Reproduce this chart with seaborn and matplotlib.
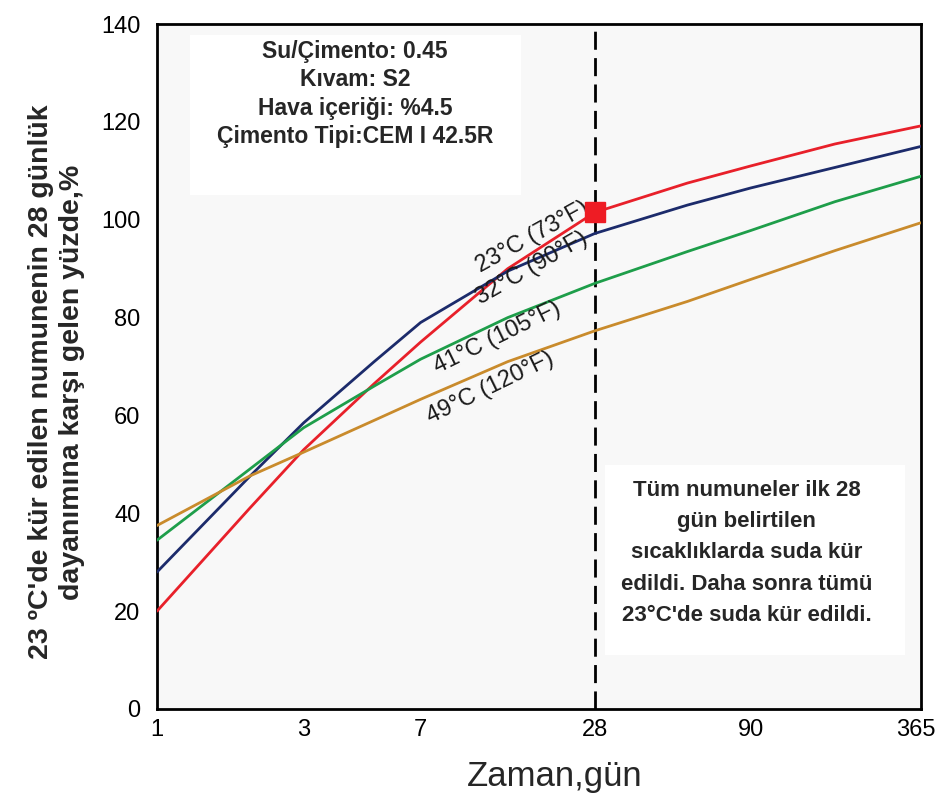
import numpy as np
import pandas as pd
import seaborn as sns
import matplotlib.pyplot as plt
from matplotlib.patches import Rectangle
from matplotlib.ticker import NullLocator
from matplotlib.transforms import ScaledTranslation

days = [1, 2, 3, 5, 7, 14, 28, 56, 90, 180, 365]
c23 = [20, 41, 53, 66.5, 75, 90, 101.5, 107.5, 111, 115.5, 119.2]
c32 = [28, 47.5, 58.5, 71, 79, 89.5, 97.2, 103, 106.5, 110.7, 115]
c41 = [34.5, 49, 57.5, 66, 71.5, 80, 87, 93.5, 97.8, 103.7, 108.9]
c49 = [37.5, 47.6, 52.5, 59, 63.3, 71, 77.3, 83.3, 87.8, 93.7, 99.4]

series_names = ["23°C (73°F)", "32°C (90°F)", "41°C (105°F)", "49°C (120°F)"]
colors = ["#e8202a", "#1c2b6b", "#1e9e4a", "#c98b2c"]
day_ticks = [1, 3, 7, 28, 90, 365]
y_ticks = [0, 20, 40, 60, 80, 100, 120, 140]
ref_day = 28
ref_value = 101.5

info_text = "Su/Çimento: 0.45\nKıvam: S2\nHava içeriği: %4.5\nÇimento Tipi:CEM I 42.5R"
note_text = ("Tüm numuneler ilk 28\ngün belirtilen\nsıcaklıklarda suda kür\n"
             "edildi. Daha sonra tümü\n23°C'de suda kür edildi.")

rows = []
for name, vals in zip(series_names, [c23, c32, c41, c49]):
    for d, v in zip(days, vals):
        rows.append({"Zaman": d, "Yuzde": v, "Sicaklik": name})
df = pd.DataFrame(rows)

# orijinal grafikteki zaman ekseni tam logaritmik degil, tik araliklarina gore esle
scale_logs = [-1.0, 0.0, np.log10(3), np.log10(7), np.log10(28), np.log10(90), np.log10(365), 3.6]
scale_pos = [-0.39, 0.0, 0.192, 0.345, 0.573, 0.777, 1.0, 1.40]


def fwd(x):
    return np.interp(np.log10(np.maximum(x, 1e-6)), scale_logs, scale_pos)


def inv(y):
    return 10 ** np.interp(y, scale_pos, scale_logs)


sns.set_style("white")
plt.rcParams["font.family"] = ["Liberation Sans", "DejaVu Sans"]

fig = plt.figure(figsize=(9.38, 8.01), dpi=100)
ax = fig.add_axes([0.1674, 0.1149, 0.8145, 0.855])
ax.set_facecolor("#f8f8f8")

sns.lineplot(data=df, x="Zaman", y="Yuzde", hue="Sicaklik",
             palette=dict(zip(series_names, colors)), linewidth=2,
             legend=False, ax=ax, zorder=3)

ax.set_xscale("function", functions=(fwd, inv))
ax.set_xlim(1, 365)
ax.set_ylim(0, 140)
ax.set_xticks(day_ticks)
ax.set_xticklabels([str(d) for d in day_ticks])
ax.xaxis.set_minor_locator(NullLocator())
ax.set_yticks(y_ticks)

ax.tick_params(direction="in", width=1.8, labelsize=17, colors="black")
ax.tick_params(axis="x", length=20, pad=7)
ax.tick_params(axis="y", length=14, pad=12)
for sp in ax.spines.values():
    sp.set_visible(True)
    sp.set_color("black")
    sp.set_linewidth(2)

# son tik etiketi kenardan tasmasin
last = ax.get_xticklabels()[-1]
last.set_transform(last.get_transform() + ScaledTranslation(-4 / 72, 0, fig.dpi_scale_trans))

ax.axvline(ref_day, color="black", lw=2, ls=(0, (6.5, 3)), zorder=2)
ax.plot(ref_day, ref_value, "s", color="#ee1c24", ms=15, zorder=5)

# bilgi kutulari
ax.add_patch(Rectangle((0.043, 0.750), 0.433, 0.234, transform=ax.transAxes,
                       facecolor="white", edgecolor="none", zorder=1))
ax.text(0.259, 0.898, info_text, transform=ax.transAxes, ha="center",
        va="center", fontsize=16.5, fontweight="bold", linespacing=1.3)

ax.add_patch(Rectangle((0.586, 0.079), 0.393, 0.277, transform=ax.transAxes,
                       facecolor="white", edgecolor="none", zorder=1))
ax.text(0.772, 0.228, note_text, transform=ax.transAxes, ha="center",
        va="center", fontsize=16, fontweight="bold", linespacing=1.65)

# egri etiketleri
label_pos = [(0.491, 0.689, 29), (0.491, 0.644, 30), (0.445, 0.542, 26), (0.436, 0.469, 26)]
for name, (lx, ly, rot) in zip(series_names, label_pos):
    ax.text(lx, ly, name, transform=ax.transAxes, ha="center", va="center",
            rotation=rot, fontsize=17, color="#1a1a1a", zorder=4)

ax.set_xlabel("Zaman,gün", fontsize=25)
ax.xaxis.set_label_coords(0.52, -0.075)
ax.set_ylabel("")
fig.text(0.060, 0.523, "23 ºC'de kür edilen numunenin 28 günlük\ndayanımına karşı gelen yüzde,%",
         rotation=90, ha="center", va="center", fontsize=20.5, fontweight="bold",
         linespacing=1.25)

fig.savefig("out.png", dpi=100)
